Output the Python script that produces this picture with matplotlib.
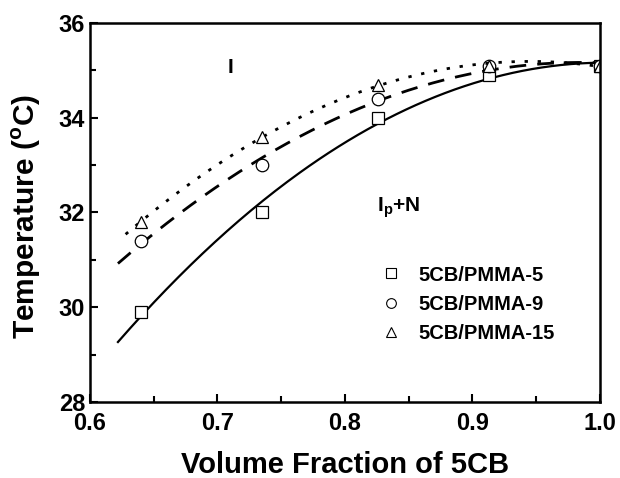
import numpy as np
import matplotlib
matplotlib.use("Agg")
import matplotlib.pyplot as plt
from matplotlib.ticker import MultipleLocator

plt.rcParams['font.family'] = ['Liberation Sans', 'DejaVu Sans']
plt.rcParams['font.weight'] = 'bold'

# data
frac = [0.64, 0.735, 0.826, 0.913, 1.0]
pmma5 = [29.9, 32.0, 34.0, 34.9, 35.1]
pmma9 = [31.4, 33.0, 34.4, 35.1, 35.1]
pmma15 = [31.8, 33.6, 34.7, 35.1, 35.1]
fit_start = [0.622, 0.622, 0.628]

fig = plt.figure(figsize=(6.2, 4.78), dpi=100)
ax = fig.add_axes([0.145, 0.159, 0.8226, 0.793])

series = [(pmma5, 's', '-', '5CB/PMMA-5'),
          (pmma9, 'o', (0, (6, 4)), '5CB/PMMA-9'),
          (pmma15, '^', (0, (1.2, 3.5)), '5CB/PMMA-15')]

handles = []
for (vals, mk, ls, lab), x0 in zip(series, fit_start):
    c = np.polyfit(frac, vals, 2)
    xx = np.linspace(x0, 1.0, 200)
    ax.plot(xx, np.polyval(c, xx), color='black', ls=ls, lw=2 if ls != '-' else 1.6)
    h, = ax.plot(frac, vals, ls='none', marker=mk, ms=9, mfc='white', mec='black', mew=0.9, label=lab)
    handles.append(h)

ax.set_xlim(0.6, 1.0)
ax.set_ylim(28, 36)
ax.xaxis.set_major_locator(MultipleLocator(0.1))
ax.xaxis.set_minor_locator(MultipleLocator(0.05))
ax.yaxis.set_major_locator(MultipleLocator(2))
ax.yaxis.set_minor_locator(MultipleLocator(1))
ax.tick_params(which='both', direction='in', labelsize=17, width=1.5)
ax.tick_params(axis='x', pad=7)
ax.tick_params(which='major', length=6)
ax.tick_params(which='minor', length=4)
for s in ax.spines.values():
    s.set_linewidth(1.8)

ax.set_xlabel('Volume Fraction of 5CB', fontsize=21, fontweight='bold')
ax.xaxis.set_label_coords(0.5, -0.128)
ax.set_ylabel('Temperature ($^\\mathregular{o}$C)', fontsize=21.5, fontweight='bold')
ax.yaxis.set_label_coords(-0.092, 0.49)

ax.text(0.71, 35.05, 'I', fontsize=15, fontweight='bold', ha='center', va='center')
ax.text(0.825, 32.1, 'I$_\\mathregular{p}$+N', fontsize=15, fontweight='bold', ha='left', va='center')

leg = ax.legend(handles=[plt.Line2D([], [], ls='none', marker=h.get_marker(), ms=7,
                                    mfc='white', mec='black', mew=0.8) for h in handles],
                labels=[s[3] for s in series], loc='upper left', bbox_to_anchor=(0.567, 0.36),
                frameon=False, fontsize=14.5, handletextpad=0.75, labelspacing=0.5,
                handlelength=1.2, borderaxespad=0, borderpad=0)

fig.savefig('out.png', dpi=100)
